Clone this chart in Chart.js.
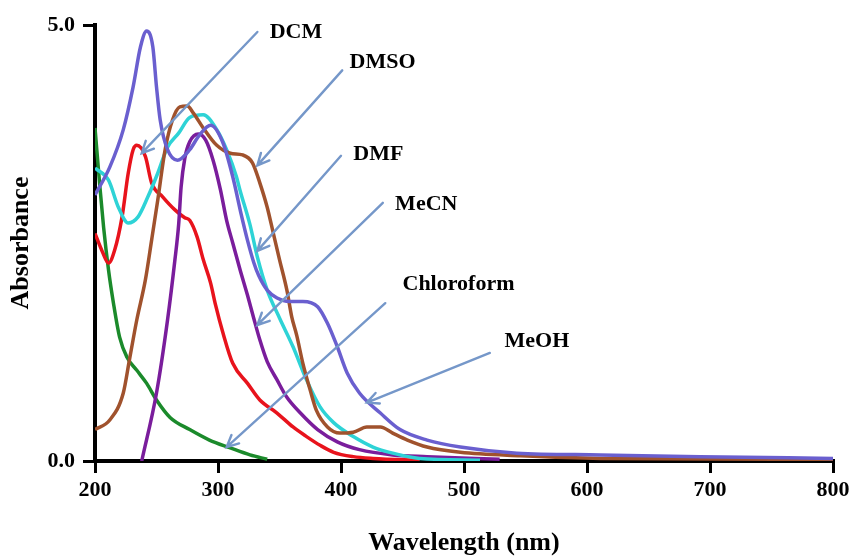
<!DOCTYPE html>
<html>
<head>
<meta charset="utf-8">
<title>UV-Vis absorption spectra in different solvents</title>
<script src="https://cdn.jsdelivr.net/npm/chart.js@4/dist/chart.umd.min.js"></script>
<style>
  html, body { margin: 0; padding: 0; background: #ffffff; }
  #wrap { width: 858px; height: 559px; position: relative; }
</style>
</head>
<body>
<div id="wrap"><canvas id="spectra"></canvas></div>
<script>
// Absorption spectra (wavelength in nm, absorbance) recorded in six solvents
const meohNm  = [200, 212, 223, 231, 237, 242, 247, 250, 253, 259, 267, 277, 285, 294, 304, 312, 319, 324, 329, 333, 340, 348, 358, 369, 381, 389, 397, 405, 415, 432, 448, 470, 497, 543, 611, 692, 800];
const meohAbs = [3.05, 3.37, 3.80, 4.29, 4.75, 4.93, 4.75, 4.29, 3.91, 3.57, 3.45, 3.57, 3.74, 3.85, 3.65, 3.26, 2.82, 2.53, 2.28, 2.13, 1.96, 1.87, 1.83, 1.83, 1.77, 1.58, 1.31, 1.01, 0.78, 0.55, 0.36, 0.24, 0.16, 0.09, 0.07, 0.05, 0.03];

const dmsoNm  = [200, 212, 223, 228, 234, 241, 246, 251, 257, 263, 269, 275, 280, 288, 299, 310, 320, 328, 334, 340, 345, 350, 356, 360, 364, 369, 375, 380, 389, 399, 410, 421, 432, 442, 454, 470, 497, 546, 611, 800];
const dmsoAbs = [0.36, 0.47, 0.78, 1.16, 1.62, 2.08, 2.53, 2.99, 3.57, 3.91, 4.06, 4.07, 3.99, 3.82, 3.62, 3.53, 3.51, 3.42, 3.19, 2.91, 2.61, 2.31, 1.96, 1.65, 1.44, 1.12, 0.81, 0.58, 0.39, 0.32, 0.33, 0.39, 0.39, 0.32, 0.24, 0.16, 0.10, 0.06, 0.03, 0.02];

const dmfNm  = [200, 211, 219, 227, 235, 243, 251, 259, 268, 277, 288, 299, 307, 315, 318, 326, 332, 340, 350, 361, 372, 383, 394, 410, 426, 442, 464, 513];
const dmfAbs = [3.36, 3.22, 2.91, 2.73, 2.80, 3.03, 3.30, 3.60, 3.76, 3.94, 3.97, 3.80, 3.57, 3.26, 3.10, 2.71, 2.34, 1.96, 1.64, 1.31, 0.93, 0.62, 0.44, 0.28, 0.16, 0.09, 0.03, 0.01];

const mecnNm  = [238, 250, 259, 265, 268, 270, 273, 277, 284, 290, 296, 302, 307, 312, 318, 324, 329, 334, 340, 348, 356, 367, 381, 397, 415, 442, 470, 529];
const mecnAbs = [0.00, 0.78, 1.62, 2.31, 2.71, 3.14, 3.47, 3.66, 3.75, 3.68, 3.45, 3.11, 2.76, 2.50, 2.19, 1.90, 1.64, 1.39, 1.14, 0.93, 0.73, 0.55, 0.36, 0.22, 0.13, 0.07, 0.05, 0.02];

const dcmNm  = [200, 206, 211, 216, 222, 227, 231, 234, 241, 246, 255, 265, 273, 277, 283, 288, 294, 298, 304, 312, 324, 334, 348, 361, 372, 383, 394, 410, 426, 464];
const dcmAbs = [2.61, 2.40, 2.27, 2.42, 2.80, 3.30, 3.57, 3.62, 3.49, 3.19, 3.03, 2.88, 2.79, 2.76, 2.57, 2.31, 2.04, 1.79, 1.47, 1.12, 0.89, 0.70, 0.55, 0.39, 0.28, 0.18, 0.10, 0.05, 0.03, 0.01];

const chcl3Nm  = [200, 204, 207, 211, 215, 220, 226, 234, 242, 250, 261, 277, 293, 310, 326, 340];
const chcl3Abs = [3.82, 3.14, 2.68, 2.19, 1.81, 1.42, 1.19, 1.04, 0.89, 0.70, 0.50, 0.36, 0.24, 0.15, 0.07, 0.02];

// Axis range and tick spacing
const wlMin = 200, wlMax = 800, wlStep = 100;
const absMin = 0, absMax = 5, absStep = 5;

const series = [
  { label: 'MeOH',       nm: meohNm,  abs: meohAbs,  color: '#6a5fcf' },
  { label: 'DMSO',       nm: dmsoNm,  abs: dmsoAbs,  color: '#a0522d' },
  { label: 'DMF',        nm: dmfNm,   abs: dmfAbs,   color: '#2ed3d6' },
  { label: 'MeCN',       nm: mecnNm,  abs: mecnAbs,  color: '#7a1d9c' },
  { label: 'DCM',        nm: dcmNm,   abs: dcmAbs,   color: '#e8131c' },
  { label: 'Chloroform', nm: chcl3Nm, abs: chcl3Abs, color: '#1b8a2b' }
];

// Solvent callouts: text anchor and arrow (tail -> head), in axis units
const callouts = [
  { text: 'DCM',        at: [342, 4.85], from: [332, 4.92], to: [238, 3.53] },
  { text: 'DMSO',       at: [407, 4.51], from: [401, 4.48], to: [332, 3.39] },
  { text: 'DMF',        at: [410, 3.45], from: [400, 3.50], to: [332, 2.41] },
  { text: 'MeCN',       at: [444, 2.88], from: [434, 2.96], to: [332, 1.56] },
  { text: 'Chloroform', at: [450, 1.96], from: [436, 1.81], to: [307, 0.16] },
  { text: 'MeOH',       at: [533, 1.31], from: [521, 1.24], to: [421, 0.67] }
];

const serif = '"Liberation Serif", "Times New Roman", serif';

const calloutPlugin = {
  id: 'solventCallouts',
  afterDatasetsDraw(chart) {
    const { ctx, scales: { x, y } } = chart;
    ctx.save();
    ctx.strokeStyle = '#7597c9';
    ctx.lineWidth = 2.4;
    ctx.lineCap = 'round';
    callouts.forEach(c => {
      const x0 = x.getPixelForValue(c.from[0]), y0 = y.getPixelForValue(c.from[1]);
      const x1 = x.getPixelForValue(c.to[0]),   y1 = y.getPixelForValue(c.to[1]);
      ctx.beginPath();
      ctx.moveTo(x0, y0);
      ctx.lineTo(x1, y1);
      const ang = Math.atan2(y1 - y0, x1 - x0);
      const head = 13, spread = 0.45;
      ctx.moveTo(x1 - head * Math.cos(ang - spread), y1 - head * Math.sin(ang - spread));
      ctx.lineTo(x1, y1);
      ctx.lineTo(x1 - head * Math.cos(ang + spread), y1 - head * Math.sin(ang + spread));
      ctx.stroke();
    });
    ctx.fillStyle = '#000000';
    ctx.font = 'bold 22px ' + serif;
    ctx.textAlign = 'left';
    ctx.textBaseline = 'alphabetic';
    callouts.forEach(c => {
      ctx.fillText(c.text, x.getPixelForValue(c.at[0]), y.getPixelForValue(c.at[1]));
    });
    ctx.restore();
  }
};

const axisFont = { family: serif, size: 22, weight: 'bold' };
const titleFont = { family: serif, size: 26, weight: 'bold' };

new Chart(document.getElementById('spectra'), {
  type: 'line',
  data: {
    datasets: series.map(s => ({
      label: s.label,
      data: s.nm.map((v, i) => ({ x: v, y: s.abs[i] })),
      borderColor: s.color,
      backgroundColor: s.color,
      borderWidth: 3.5,
      pointRadius: 0,
      fill: false,
      tension: 0.4,
      cubicInterpolationMode: 'monotone'
    }))
  },
  options: {
    responsive: true,
    maintainAspectRatio: false,
    devicePixelRatio: 1,
    animation: false,
    layout: { padding: { top: 25, right: 25, left: 0, bottom: 0 } },
    plugins: {
      legend: { display: false },
      tooltip: { enabled: false }
    },
    scales: {
      x: {
        type: 'linear',
        min: wlMin,
        max: wlMax,
        ticks: { stepSize: wlStep, color: '#000', font: axisFont, padding: 4, maxRotation: 0 },
        grid: { drawOnChartArea: false, drawTicks: true, tickLength: 12, color: '#000', lineWidth: 3 },
        border: { color: '#000', width: 4 },
        title: { display: true, text: 'Wavelength (nm)', color: '#000', font: titleFont, padding: { top: 0, bottom: 0 } },
        afterFit(scale) { scale.height = 98; }
      },
      y: {
        type: 'linear',
        min: absMin,
        max: absMax,
        ticks: { stepSize: absStep, color: '#000', font: axisFont, padding: 8, callback: v => v.toFixed(1) },
        grid: { drawOnChartArea: false, drawTicks: true, tickLength: 12, color: '#000', lineWidth: 3 },
        border: { color: '#000', width: 4 },
        title: { display: true, text: 'Absorbance', color: '#000', font: titleFont, padding: { top: 6, bottom: 0 } },
        afterFit(scale) { scale.width = 95; }
      }
    }
  },
  plugins: [calloutPlugin]
});
</script>
</body>
</html>
